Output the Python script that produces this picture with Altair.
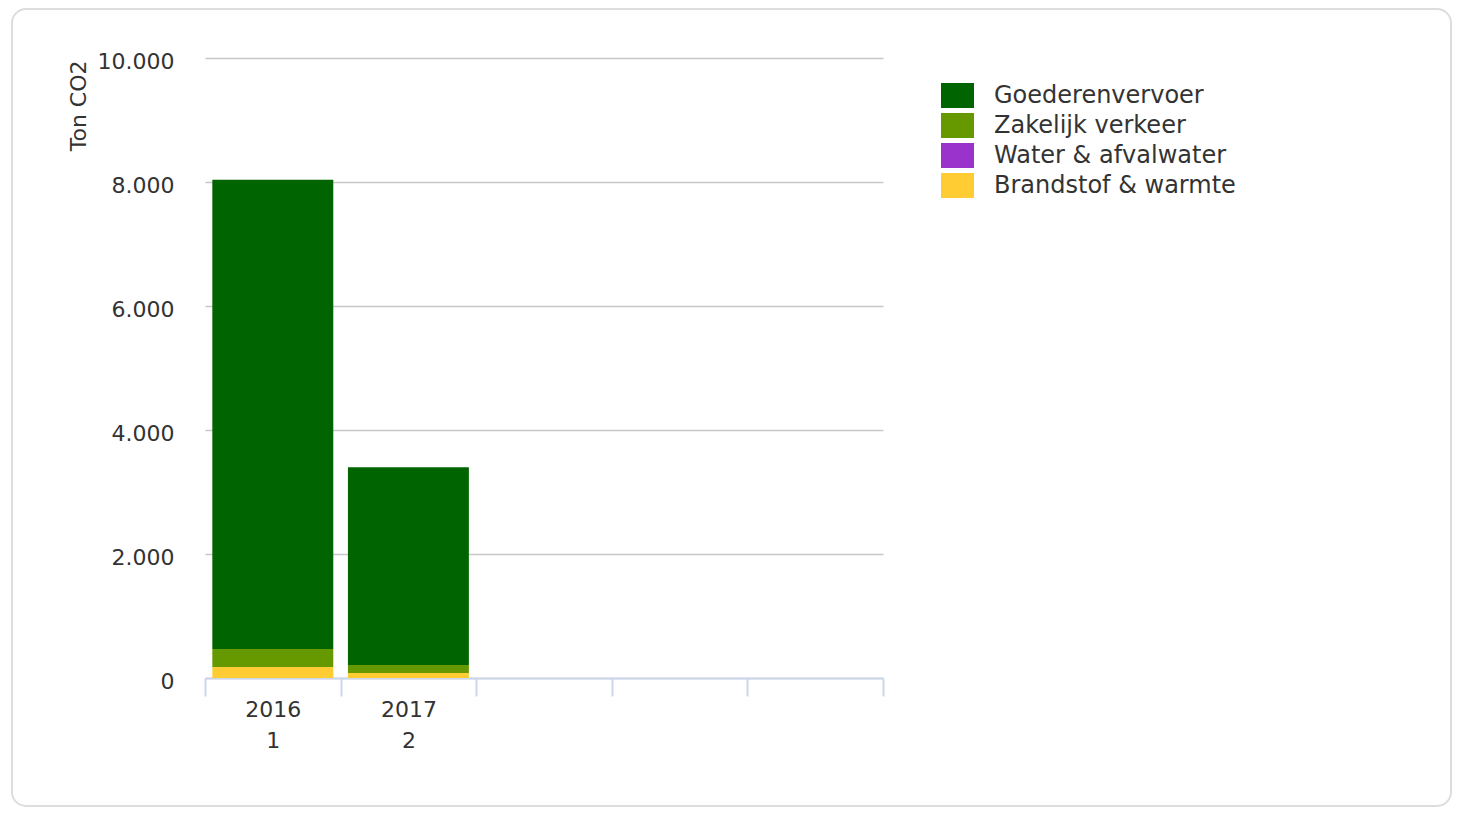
import altair as alt
import pandas as pd

years = ["2016", "2017"]
nums = ["1", "2"]
slots = ["1", "2", "3", "4", "5"]
series = ["Goederenvervoer", "Zakelijk verkeer", "Water & afvalwater", "Brandstof & warmte"]
colors = ["#006400", "#669900", "#9933cc", "#ffcc33"]
goederen = [7568, 3189]
zakelijk = [290, 129]
water = [0, 0]
brandstof = [177, 80]
y_ticks = [0, 2000, 4000, 6000, 8000, 10000]

rows = []
for i, slot in enumerate(nums):
    for s, vals in zip(series, [goederen, zakelijk, water, brandstof]):
        rows.append({"slot": slot, "serie": s, "waarde": vals[i],
                     "volgorde": len(series) - 1 - series.index(s)})
df = pd.DataFrame(rows)

label_expr = ""
for y, n in zip(years, nums):
    label_expr += f"datum.value == '{n}' ? ['{y}', '{n}'] : "
label_expr += "''"

FONT = "DejaVu Sans"

card = alt.Chart(pd.DataFrame({"a": [0]})).mark_rect(
    fill="transparent", stroke="#dddddd", strokeWidth=2, cornerRadius=14
).encode(
    x=alt.value(-193), x2=alt.value(1246), y=alt.value(-49), y2=alt.value(748)
)

bars = alt.Chart(df).mark_bar(width={"band": 0.892}).encode(
    x=alt.X("slot:N", scale=alt.Scale(domain=slots, paddingInner=0, paddingOuter=0),
            axis=alt.Axis(title=None, labelExpr=label_expr, labelAngle=0,
                          tickBand="extent", tickSize=18, tickColor="#ccd6eb", tickWidth=2,
                          domainColor="#ccd6eb", domainWidth=2, grid=False,
                          labelFont=FONT, labelFontSize=22, labelColor="#333333",
                          labelLineHeight=31, labelPadding=3, labelBaseline="top")),
    y=alt.Y("waarde:Q", stack="zero", scale=alt.Scale(domain=[0, 10000], nice=False),
            axis=alt.Axis(title="Ton CO2", values=y_ticks,
                          labelExpr="replace(format(datum.value, ',d'), ',', '.')",
                          domain=False, ticks=False, labelPadding=31,
                          gridColor="#c8c8c8", gridWidth=1.5,
                          labelFont=FONT, labelFontSize=22, labelColor="#333333",
                          labelOffset=3,
                          titleFont=FONT, titleFontSize=22, titleFontWeight="normal",
                          titleColor="#333333", titleAngle=270, titleAlign="right",
                          titleBaseline="middle", titleX=-127, titleY=2)),
    color=alt.Color("serie:N", scale=alt.Scale(domain=series, range=colors),
                    legend=alt.Legend(title=None, orient="none", legendX=736, legendY=21,
                                      symbolType="M-1,-0.76H1V0.76H-1Z", symbolSize=1089,
                                      symbolStrokeWidth=0, symbolOpacity=1,
                                      labelFont=FONT, labelFontSize=24, labelColor="#333333",
                                      labelOffset=20, rowPadding=-3, padding=0,
                                      labelLimit=400)),
    order=alt.Order("volgorde:Q", sort="ascending"),
)

chart = alt.layer(card, bars).properties(
    width=678, height=620,
    autosize=alt.AutoSizeParams(type="none"),
    padding={"left": 197, "top": 50, "right": 570, "bottom": 130},
    background="white",
).configure_view(stroke=None)

chart.save("out.html", embed_options={"renderer": "svg", "actions": False})
